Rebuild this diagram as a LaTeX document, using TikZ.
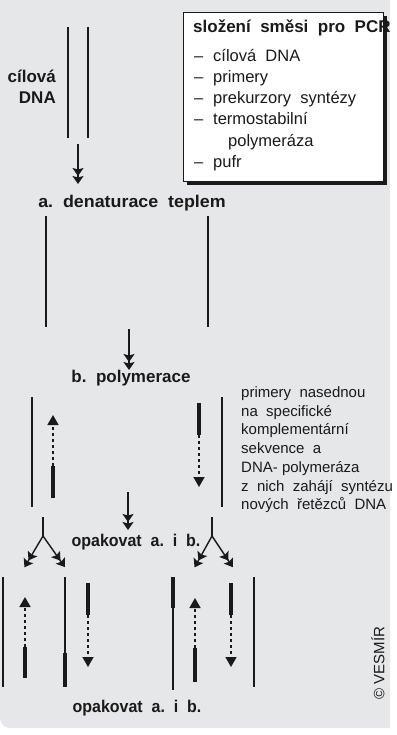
\documentclass[tikz,border=0pt]{standalone}
\usepackage{fontspec}
\setmainfont{Liberation Sans}
\usepackage{graphicx}
\usetikzlibrary{arrows.meta}
\definecolor{bgcol}{HTML}{E6E7E9}
\definecolor{ink}{HTML}{1A1A1A}
\tikzset{
  strand/.style={line width=1.4pt, draw=ink},
  primerbar/.style={line width=4.5pt, draw=ink},
  mainarrow/.style={line width=1.4pt, draw=ink,
    -{Stealth[length=8pt,width=11pt,inset=1.5pt] Stealth[length=8pt,width=11pt,inset=1.5pt,sep=-5pt]}},
  dotarrow/.style={line width=1.7pt, draw=ink, dash pattern=on 3pt off 3pt,
    -{Triangle[length=10pt,width=11pt]}},
  boldlab/.style={font=\fontsize{17}{21}\selectfont\bfseries, text=ink, inner sep=0pt,
    text height=12.5pt, text depth=3.5pt},
  boxtxt/.style={font=\fontsize{16.5}{19}\selectfont, text=ink, inner sep=0pt, anchor=west,
    text height=12pt, text depth=3.5pt},
  sidetxt/.style={font=\fontsize{15}{19}\selectfont, text=ink, inner sep=0pt, anchor=west,
    text height=11pt, text depth=3pt},
}
\begin{document}
\begin{tikzpicture}[x=1pt,y=-1pt]
\useasboundingbox (0,0) rectangle (396,735);
\fill[white] (0,0) rectangle (396,735);
\fill[bgcol] (0,0) -- (390,0) -- (390,728) [rounded corners=10pt] -- (0,728) [sharp corners] -- cycle;

% ---- mixture box ----
\fill[white] (183,12) rectangle (383,181);
\node[boxtxt, font=\fontsize{17}{20}\selectfont\bfseries] (title) at (193,28) {složení\ \ směsi\ \ pro\ \ PCR};
\foreach \yy/\tt/\nm in {57/{cílová\ \ DNA}/i1, 78/primery/i2, 99/{prekurzory\ \ syntézy}/i3, 120/termostabilní/i4, 163/pufr/i6}{
  \node[boxtxt] (d\nm) at (194,\yy) {–};
  \node[boxtxt] (\nm) at (213,\yy) {\tt};
}
\node[boxtxt] (i5) at (228,142) {polymeráza};
\draw[line width=0.8pt, ink] (183,12) rectangle (383,181);
\fill[ink] (383,16) rectangle (387,185);
\fill[ink] (187,181) rectangle (387,185);

% ---- target DNA ----
\draw[strand] (68,27) -- (68,138);
\draw[strand] (88,27) -- (88,138);
\node[boldlab, anchor=north east, align=right, text height=, text depth=] (target) at (56,70) {cílová\\DNA};
\coordinate (a1s) at (78,144);
\coordinate (a1e) at (78,179);
\draw[mainarrow] (a1s) -- (a1e);
\node[boldlab] (den) at (132,203) {\scalebox{1.05}[1]{a.\ \ denaturace\ \ teplem}};

% ---- denatured strands ----
\draw[strand] (46,216) -- (46,327);
\draw[strand] (208,216) -- (208,327);
\coordinate (a2s) at (129,329);
\coordinate (a2e) at (129,365);
\draw[mainarrow] (a2s) -- (a2e);
\node[boldlab] (pol) at (131,378) {b.\ \ polymerace};

% ---- polymerase step ----
\draw[strand] (32,397) -- (32,507);
\draw[strand] (222,397) -- (222,507);
\coordinate (p1b) at (53,498);
\coordinate (p1t) at (53,466);
\coordinate (p1tip) at (53,415);
\draw[primerbar] (p1b) -- (p1t);
\draw[dotarrow] (p1t) -- (p1tip);
\coordinate (p2t) at (199,403);
\coordinate (p2b) at (199,435);
\coordinate (p2tip) at (199,487);
\draw[primerbar] (p2t) -- (p2b);
\draw[dotarrow] (p2b) -- (p2tip);

\foreach \yy/\tt/\nm in {393/{primery\ \ nasednou}/s1, 412/{na\ \ specifické}/s2, 430/{komplementární}/s3, 449/{sekvence\ \ a}/s4, 468/{DNA- polymeráza}/s5, 487/{z\ \ nich\ \ zahájí\ \ syntézu}/s6, 505/{nových\ \ řetězců\ \ DNA}/s7}{
  \node[sidetxt] (\nm) at (241,\yy) {\tt};
}

\coordinate (a3s) at (128,492);
\coordinate (a3e) at (128,525);
\draw[mainarrow] (a3s) -- (a3e);
\node[boldlab] (rep1) at (136,542) {\scalebox{0.94}[1]{opakovat\ \ a.\ \ i\ \ b.}};

% forks
\coordinate (f1t) at (43,517);
\coordinate (f1m) at (43,536);
\coordinate (f1l) at (27,563);
\coordinate (f1r) at (62,563);
\draw[strand] (f1t) -- (f1m);
\draw[mainarrow] (f1m) -- (f1l);
\draw[mainarrow] (f1m) -- (f1r);
\coordinate (f2t) at (212,517);
\coordinate (f2m) at (212,536);
\coordinate (f2l) at (197,563);
\coordinate (f2r) at (230,563);
\draw[strand] (f2t) -- (f2m);
\draw[mainarrow] (f2m) -- (f2l);
\draw[mainarrow] (f2m) -- (f2r);

% ---- second round ----
\draw[strand] (3,577) -- (3,687);
\draw[primerbar] (25,678) -- (25,647) coordinate (q1t);
\coordinate (q1tip) at (25,597);
\draw[dotarrow] (q1t) -- (q1tip);
\draw[strand] (65,577) -- (65,687);
\draw[primerbar] (65,653) -- (65,687);
\draw[primerbar] (88,583) -- (88,615) coordinate (q2b);
\coordinate (q2tip) at (88,667);
\draw[dotarrow] (q2b) -- (q2tip);

\draw[strand] (173,577) -- (173,690);
\draw[primerbar] (173,577) -- (173,608);
\draw[primerbar] (195,682) -- (195,648) coordinate (q3t);
\coordinate (q3tip) at (195,598);
\draw[dotarrow] (q3t) -- (q3tip);
\draw[primerbar] (231,583) -- (231,615) coordinate (q4b);
\coordinate (q4tip) at (231,667);
\draw[dotarrow] (q4b) -- (q4tip);
\draw[strand] (254,577) -- (254,687);

\node[boldlab] (rep2) at (137,708) {\scalebox{0.94}[1]{opakovat\ \ a.\ \ i\ \ b.}};
\node[font=\fontsize{15}{18}\selectfont, text=ink, rotate=90, inner sep=0pt] (copy) at (378,663) {© VESMÍR};
\end{tikzpicture}
\end{document}
